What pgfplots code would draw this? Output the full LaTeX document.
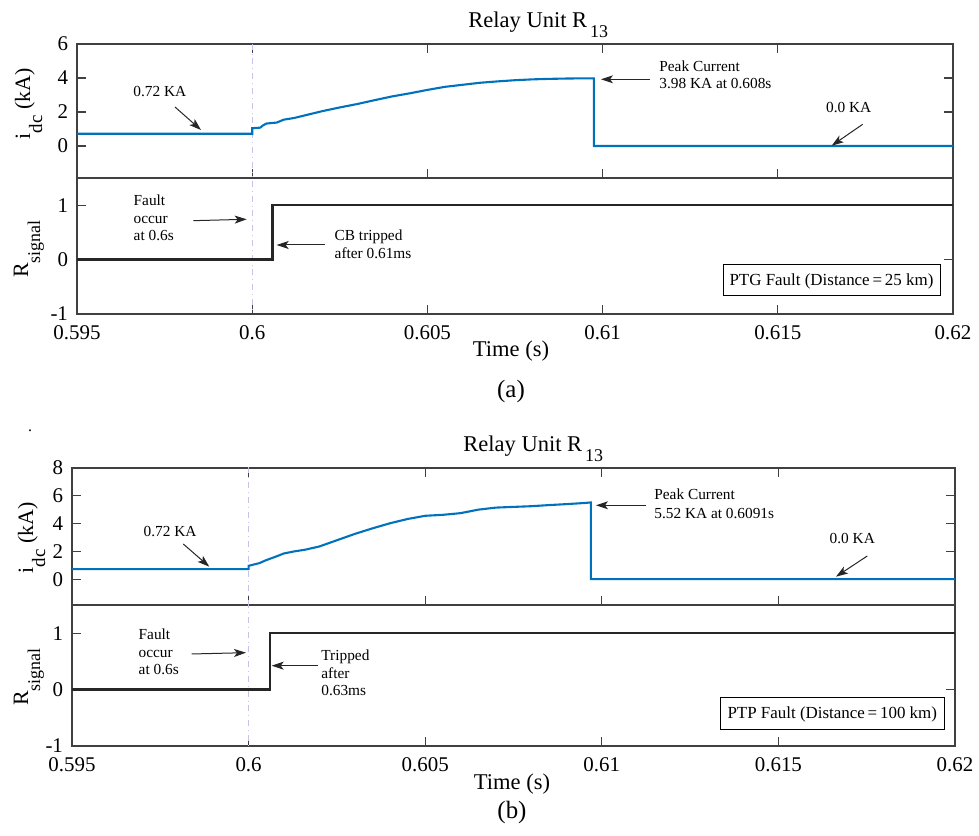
\documentclass[border=0pt]{standalone}
\usepackage{fontspec}
\setmainfont{Liberation Serif}
\usepackage{pgfplots}
\usepackage{pgfplotstable}
\pgfplotsset{compat=1.18}
\usetikzlibrary{arrows.meta}

\definecolor{mblue}{RGB}{0,114,189}
\definecolor{vline}{RGB}{195,195,235}

\pgfplotstableread{
x y
0.595 0.72
0.6 0.72
0.6 1.05
0.60023 1.08
0.6003 1.2
0.6004 1.32
0.6007 1.38
0.6009 1.55
0.6012 1.65
0.6015 1.8
0.602 2.05
0.6025 2.27
0.603 2.47
0.6035 2.7
0.604 2.92
0.6045 3.1
0.605 3.3
0.6055 3.48
0.606 3.6
0.6065 3.72
0.607 3.8
0.6075 3.87
0.608 3.92
0.6085 3.95
0.609 3.97
0.6095 3.98
0.60975 3.98
0.60975 0
0.62 0
}\idcA

\pgfplotstableread{
x y
0.595 0.72
0.6 0.72
0.6 0.96
0.6003 1.15
0.6005 1.37
0.6008 1.65
0.601 1.85
0.6013 2.0
0.6016 2.12
0.602 2.35
0.6025 2.8
0.603 3.25
0.6035 3.65
0.604 4.02
0.6045 4.33
0.605 4.56
0.6055 4.63
0.606 4.75
0.6065 5.0
0.607 5.15
0.6075 5.2
0.608 5.25
0.6085 5.33
0.609 5.4
0.6095 5.48
0.60969 5.52
0.60969 0
0.62 0
}\idcB

\pgfplotstableread{
x y
0.595 0
0.60058 0
0.60058 1
0.62 1
}\sigA

\pgfplotstableread{
x y
0.595 0
0.60061 0
0.60061 1
0.62 1
}\sigB

\pgfplotsset{
  mat/.style={
    scale only axis, anchor=south west,
    xmin=0.595, xmax=0.62,
    xtick={0.595,0.6,0.605,0.61,0.615,0.62},
    scaled x ticks=false, scaled y ticks=false,
    tick align=inside, ytick pos=both,
    major tick length=4.5bp,
    axis line style={black!75, line width=0.7bp},
    every tick/.append style={black!75, line width=0.6bp},
    tick label style={font=\fontsize{10.5}{12}\selectfont},
    yticklabel style={xshift=-1bp},
    xticklabel style={yshift=-2.5bp},
    /pgf/number format/assume math mode=true,
  },
  upper/.style={mat, xtick pos=both, xticklabels={}},
  lower/.style={mat, xtick pos=left,
    xticklabels={0.595,0.6,0.605,0.61,0.615,0.62},
    ymin=-1, ymax=1.5, ytick={-1,0,1}, yticklabels={-1,0,1}},
}

\tikzset{
  ann/.style={font=\fontsize{7.7}{8.3}\selectfont, inner sep=0, anchor=base west},
  arr/.style={-{Stealth[length=6bp,width=4bp,inset=1.5bp]}, line width=0.5bp, black!85},
}

\begin{document}
\begin{tikzpicture}
% ---------------- (a) ----------------
\begin{axis}[upper, at={(38.5bp,329bp)}, width=438bp, height=67bp,
  ymin=-1.88, ymax=6, ytick={0,2,4,6}, yticklabels={0,2,4,6}]
  \addplot[vline, dash dot, line width=0.45bp] coordinates {(0.6,-3) (0.6,9)};
  \addplot[mblue, line width=1.05bp] table[x=x,y=y] {\idcA};
\end{axis}
\begin{axis}[lower, at={(38.5bp,261bp)}, width=438bp, height=68bp]
  \addplot[vline, dash dot, line width=0.45bp] coordinates {(0.6,-3) (0.6,3)};
  \addplot[black!85, line width=1.15bp] table[x=x,y=y] {\sigA};
\end{axis}
% ---------------- (b) ----------------
\begin{axis}[upper, at={(36bp,115.5bp)}, width=441.5bp, height=68.5bp,
  ymin=-1.86, ymax=8, ytick={0,2,4,6,8}, yticklabels={0,2,4,6,8}]
  \addplot[vline, dash dot, line width=0.45bp] coordinates {(0.6,-3) (0.6,9)};
  \addplot[mblue, line width=1.05bp] table[x=x,y=y] {\idcB};
\end{axis}
\begin{axis}[lower, at={(36bp,45bp)}, width=441.5bp, height=70.5bp]
  \addplot[vline, dash dot, line width=0.45bp] coordinates {(0.6,-3) (0.6,3)};
  \addplot[black!85, line width=1.15bp] table[x=x,y=y] {\sigB};
\end{axis}

% ---------- texts and annotations (pixel coordinates) ----------
\begin{scope}[x=0.5bp, y=-0.5bp, yshift=418bp]
  % (a)
  \node[anchor=base west, inner sep=0] at (468,28) {\fontsize{11.3}{13}\selectfont Relay Unit R\hspace{1.5bp}\raisebox{-5bp}{\fontsize{9}{10}\selectfont 13}};
  \node[rotate=90, anchor=base, inner sep=0] at (30,104) {\fontsize{11}{13}\selectfont i\raisebox{-6bp}{\fontsize{9.5}{10}\selectfont dc} (kA)};
  \node[rotate=90, anchor=base, inner sep=0] at (28,249) {\fontsize{11}{13}\selectfont R\raisebox{-6bp}{\fontsize{9}{10}\selectfont signal}};
  \node[anchor=base, inner sep=0] at (511,357) {\fontsize{11.3}{13}\selectfont Time (s)};
  \node[anchor=base, inner sep=0] at (511,398) {\fontsize{12.5}{14}\selectfont (a)};

  \node[ann] at (133,96.7) {0.72 KA};
  \draw[arr] (175,107) -- (201,130);
  \node[ann] at (659,71.7) {Peak Current};
  \node[ann] at (659,88.3) {3.98 KA at 0.608s};
  \draw[arr] (650,79.3) -- (601,79.3);
  \node[ann] at (825.7,112.3) {0.0 KA};
  \draw[arr] (862.7,124.3) -- (831.7,145.7);
  \node[ann] at (133.3,205.7) {Fault};
  \node[ann] at (133.3,223.3) {occur};
  \node[ann] at (133.3,240.7) {at 0.6s};
  \draw[arr] (193.3,220.7) -- (246.7,219.3);
  \node[ann] at (334.3,240.7) {CB tripped};
  \node[ann] at (334.3,258.3) {after 0.61ms};
  \draw[arr] (325,245) -- (276.7,245);
  \draw[line width=0.5bp] (724,265) rectangle (941,296);
  \node[inner sep=0] at (831.5,281) {\fontsize{8.5}{10}\selectfont PTG Fault (Distance\,=\,25 km)};

  % (b)
  \node[inner sep=0] at (30,431) {\fontsize{8}{8}\selectfont .};
  \node[anchor=base west, inner sep=0] at (463,451.7) {\fontsize{11.3}{13}\selectfont Relay Unit R\hspace{1.5bp}\raisebox{-5bp}{\fontsize{9}{10}\selectfont 13}};
  \node[rotate=90, anchor=base, inner sep=0] at (33,538) {\fontsize{11}{13}\selectfont i\raisebox{-6bp}{\fontsize{9.5}{10}\selectfont dc} (kA)};
  \node[rotate=90, anchor=base, inner sep=0] at (28,677) {\fontsize{11}{13}\selectfont R\raisebox{-6bp}{\fontsize{9}{10}\selectfont signal}};
  \node[anchor=base, inner sep=0] at (512,790) {\fontsize{11.3}{13}\selectfont Time (s)};
  \node[anchor=base, inner sep=0] at (512,819) {\fontsize{12.5}{14}\selectfont (b)};

  \node[ann] at (143.3,536.7) {0.72 KA};
  \draw[arr] (183.3,544) -- (209.3,566.7);
  \node[ann] at (654,500) {Peak Current};
  \node[ann] at (654,518.3) {5.52 KA at 0.6091s};
  \draw[arr] (645.7,505.3) -- (596,505.3);
  \node[ann] at (829.3,544) {0.0 KA};
  \draw[arr] (867.3,556) -- (836,576.7);
  \node[ann] at (138.3,640) {Fault};
  \node[ann] at (138.3,657.7) {occur};
  \node[ann] at (138.3,675) {at 0.6s};
  \draw[arr] (191.7,654) -- (246,652.7);
  \node[ann] at (321,660.7) {Tripped};
  \node[ann] at (321,678.3) {after};
  \node[ann] at (321,695.7) {0.63ms};
  \draw[arr] (318.3,665.7) -- (271.7,665.7);
  \draw[line width=0.5bp] (720.3,697.7) rectangle (944.3,729.3);
  \node[inner sep=0] at (832.3,714) {\fontsize{8.5}{10}\selectfont PTP Fault (Distance\,=\,100 km)};
\end{scope}

\pgfresetboundingbox
\path[use as bounding box] (0,0) rectangle (489.5bp,418bp);
\end{tikzpicture}
\end{document}
